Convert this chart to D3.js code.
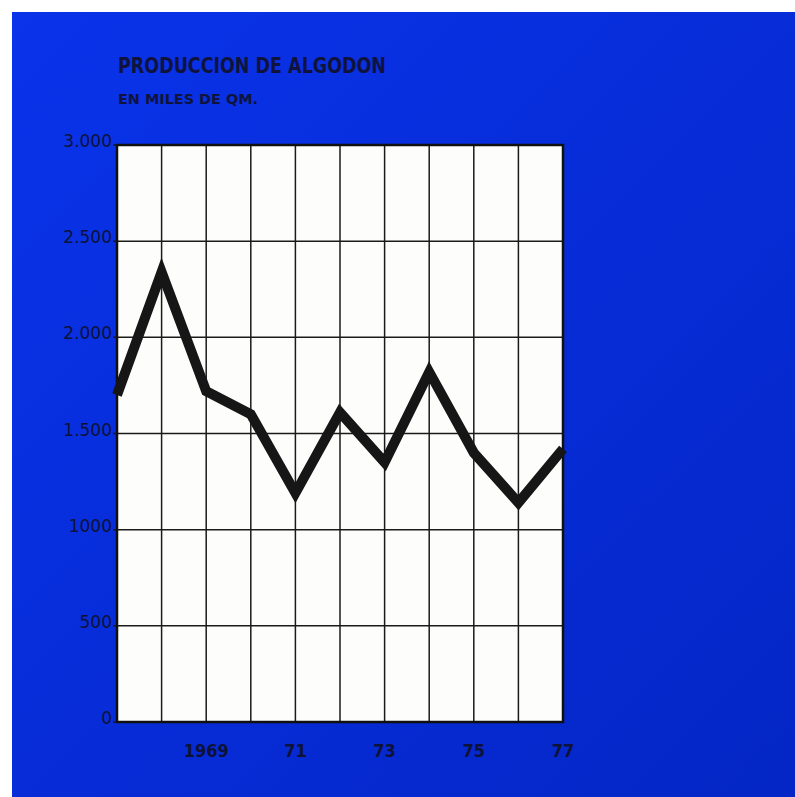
<!DOCTYPE html>
<html lang="es">
<head>
    <meta charset="UTF-8">
    <title>Produccion de Algodon</title>
    <script src="https://d3js.org/d3.v7.min.js"></script>
    <style>
        html, body {
            margin: 0;
            padding: 0;
            background: #ffffff;
        }
        .title {
            font-family: "Liberation Sans Narrow", "DejaVu Sans Condensed", Arial, sans-serif;
            font-weight: bold;
            fill: #10143c;
        }
        .ylab {
            font-family: "DejaVu Sans", Verdana, sans-serif;
            font-size: 17px;
            fill: #0e1238;
            text-anchor: end;
        }
        .xlab {
            font-family: "Liberation Sans Narrow", "DejaVu Sans Condensed", Arial, sans-serif;
            font-weight: bold;
            font-size: 18px;
            fill: #0e1238;
            text-anchor: middle;
        }
    </style>
</head>
<body>
    <svg id="chart"></svg>
    <script>
        const years = [1967, 1968, 1969, 1970, 1971, 1972, 1973, 1974, 1975, 1976, 1977];
        const production = [1700, 2340, 1720, 1600, 1190, 1610, 1350, 1820, 1400, 1140, 1420];
        const yTicks = [0, 500, 1000, 1500, 2000, 2500, 3000];
        const yTickLabels = ["0", "500", "1000", "1.500", "2.000", "2.500", "3.000"];
        const xTicks = [1969, 1971, 1973, 1975, 1977];
        const xTickLabels = ["1969", "71", "73", "75", "77"];

        const width = 795, height = 797;
        const plot = { left: 117, right: 563, top: 145, bottom: 722 };

        const svg = d3.select("#chart").attr("width", width).attr("height", height)
            .style("display", "block");

        const defs = svg.append("defs");
        const bg = defs.append("linearGradient")
            .attr("id", "bgGrad")
            .attr("x1", "0%").attr("y1", "0%")
            .attr("x2", "100%").attr("y2", "100%");
        bg.append("stop").attr("offset", "0%").attr("stop-color", "#0a33ea");
        bg.append("stop").attr("offset", "100%").attr("stop-color", "#0426c6");

        // blue page with a thin white margin top and left
        svg.append("rect")
            .attr("x", 12).attr("y", 12)
            .attr("width", width - 12).attr("height", height - 12)
            .attr("fill", "url(#bgGrad)");

        const x = d3.scaleLinear()
            .domain([1967, 1977])
            .range([plot.left, plot.right]);

        const y = d3.scaleLinear()
            .domain([0, 3000])
            .range([plot.bottom, plot.top]);

        // white plot area
        svg.append("rect")
            .attr("x", plot.left).attr("y", plot.top)
            .attr("width", plot.right - plot.left)
            .attr("height", plot.bottom - plot.top)
            .attr("fill", "#fdfdfb");

        // vertical grid (one per year)
        svg.append("g")
            .selectAll("line")
            .data(years)
            .enter().append("line")
            .attr("x1", d => x(d)).attr("x2", d => x(d))
            .attr("y1", plot.top).attr("y2", plot.bottom)
            .attr("stroke", "#1a1a1a")
            .attr("stroke-width", 1.5);

        // horizontal grid, with a small tick out to the left
        svg.append("g")
            .selectAll("line")
            .data(yTicks)
            .enter().append("line")
            .attr("x1", plot.left - 4).attr("x2", plot.right)
            .attr("y1", d => y(d)).attr("y2", d => y(d))
            .attr("stroke", "#1a1a1a")
            .attr("stroke-width", 1.5);

        // frame
        svg.append("rect")
            .attr("x", plot.left).attr("y", plot.top)
            .attr("width", plot.right - plot.left)
            .attr("height", plot.bottom - plot.top)
            .attr("fill", "none")
            .attr("stroke", "#111")
            .attr("stroke-width", 2.5);

        // y labels sit on their gridline
        svg.append("g")
            .selectAll("text")
            .data(yTicks)
            .enter().append("text")
            .attr("class", "ylab")
            .attr("x", plot.left - 5)
            .attr("y", d => y(d) + 2)
            .text((d, i) => yTickLabels[i]);

        svg.append("g")
            .selectAll("text")
            .data(xTicks)
            .enter().append("text")
            .attr("class", "xlab")
            .attr("x", d => x(d))
            .attr("y", 757)
            .text((d, i) => xTickLabels[i]);

        // the production line
        const line = d3.line()
            .x((d, i) => x(years[i]))
            .y(d => y(d));

        svg.append("path")
            .datum(production)
            .attr("d", line)
            .attr("fill", "none")
            .attr("stroke", "#161616")
            .attr("stroke-width", 10)
            .attr("stroke-linejoin", "miter")
            .attr("stroke-miterlimit", 3);

        // titles
        svg.append("text")
            .attr("class", "title")
            .attr("x", 118).attr("y", 73)
            .attr("font-size", 21)
            .attr("textLength", 268)
            .attr("lengthAdjust", "spacingAndGlyphs")
            .text("PRODUCCION DE ALGODON");

        svg.append("text")
            .attr("class", "title")
            .attr("x", 118).attr("y", 104)
            .attr("font-size", 14)
            .attr("textLength", 140)
            .attr("lengthAdjust", "spacingAndGlyphs")
            .text("EN MILES DE QM.");
    </script>
</body>
</html>
